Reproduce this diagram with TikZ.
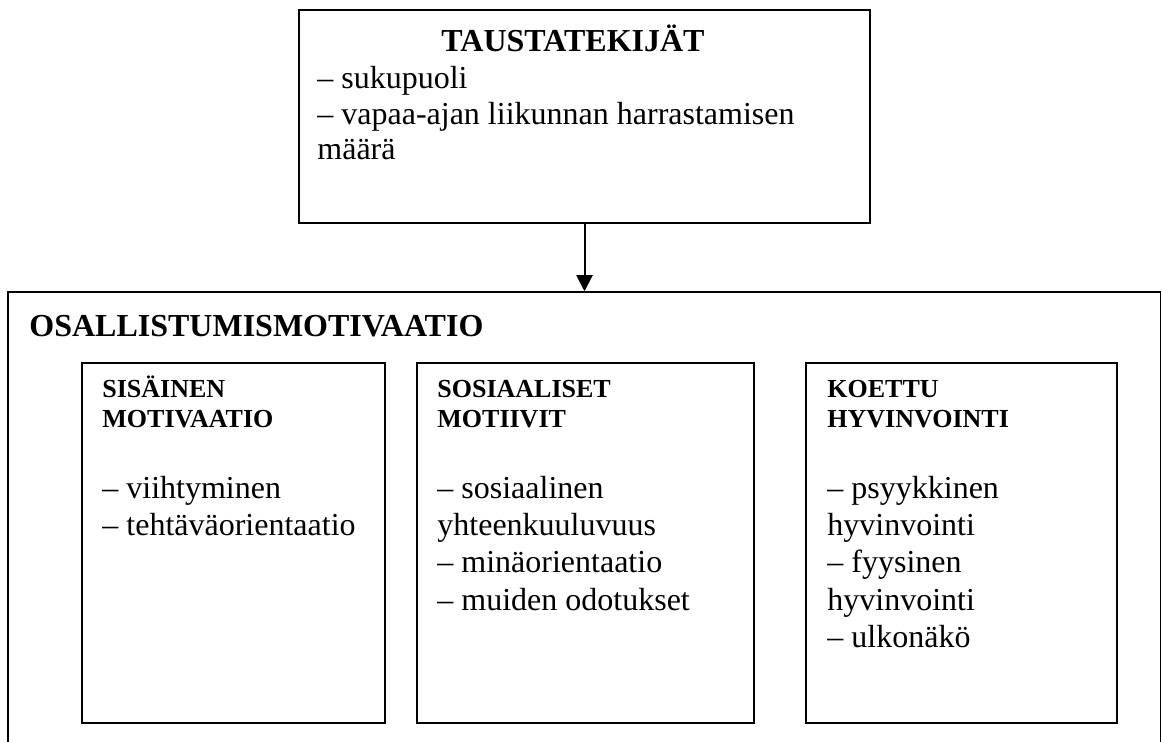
\documentclass[tikz,border=0pt]{standalone}
\usepackage{fontspec}
\setmainfont{Liberation Serif}
\usetikzlibrary{arrows.meta}

\begin{document}
\begin{tikzpicture}[x=0.5pt,y=-0.5pt,
  box/.style={draw, line width=1pt, rectangle, inner sep=0pt},
  item/.style={anchor=base west, inner sep=0pt, font=\fontsize{16}{19}\selectfont},
  head/.style={anchor=base west, inner sep=0pt, font=\fontsize{13}{15}\selectfont\bfseries},
  title/.style={inner sep=0pt, font=\fontsize{16}{19}\selectfont\bfseries}]
\clip (0,0) rectangle (1161,742);

% boxes
\node[box, minimum width=285.5pt, minimum height=106.5pt] (taustat) at (584.5,116.5) {};
\node[box, line width=0.75pt, minimum width=576.5pt, minimum height=254pt] (osall) at (584.5,546) {};
\node[box, minimum width=151.5pt, minimum height=180pt] (sisainen) at (233.5,543) {};
\node[box, minimum width=168.5pt, minimum height=180pt] (sosiaal) at (585.5,543) {};
\node[box, minimum width=155.5pt, minimum height=180pt] (koettu) at (961.5,543) {};

\draw[-{Triangle[length=8pt,width=8pt]}, line width=1pt] (taustat) -- (osall);

% taustatekijat
\node[title, anchor=base] (t0) at (573,52) {TAUSTATEKIJÄT};
\node[item] (t1) at (317,89) {– sukupuoli};
\node[item] (t2) at (317,125) {– vapaa-ajan liikunnan harrastamisen};
\node[item] (t3) at (317,160) {määrä};

% osallistumismotivaatio
\node[title, anchor=base west] (o0) at (29,337) {OSALLISTUMISMOTIVAATIO};

\node[head] (s1) at (102,398) {SISÄINEN};
\node[head] (s2) at (102,428) {MOTIVAATIO};
\node[item] (s3) at (102,499) {– viihtyminen};
\node[item] (s4) at (102,536) {– tehtäväorientaatio};

\node[head] (m1) at (437,398) {SOSIAALISET};
\node[head] (m2) at (437,428) {MOTIIVIT};
\node[item] (m3) at (437,499) {– sosiaalinen};
\node[item] (m4) at (437,536) {yhteenkuuluvuus};
\node[item] (m5) at (437,573) {– minäorientaatio};
\node[item] (m6) at (437,610) {– muiden odotukset};

\node[head] (k1) at (827,398) {KOETTU};
\node[head] (k2) at (827,428) {HYVINVOINTI};
\node[item] (k3) at (827,499) {– psyykkinen};
\node[item] (k4) at (827,536) {hyvinvointi};
\node[item] (k5) at (827,573) {– fyysinen};
\node[item] (k6) at (827,610) {hyvinvointi};
\node[item] (k7) at (827,647) {– ulkonäkö};
\end{tikzpicture}
\end{document}
